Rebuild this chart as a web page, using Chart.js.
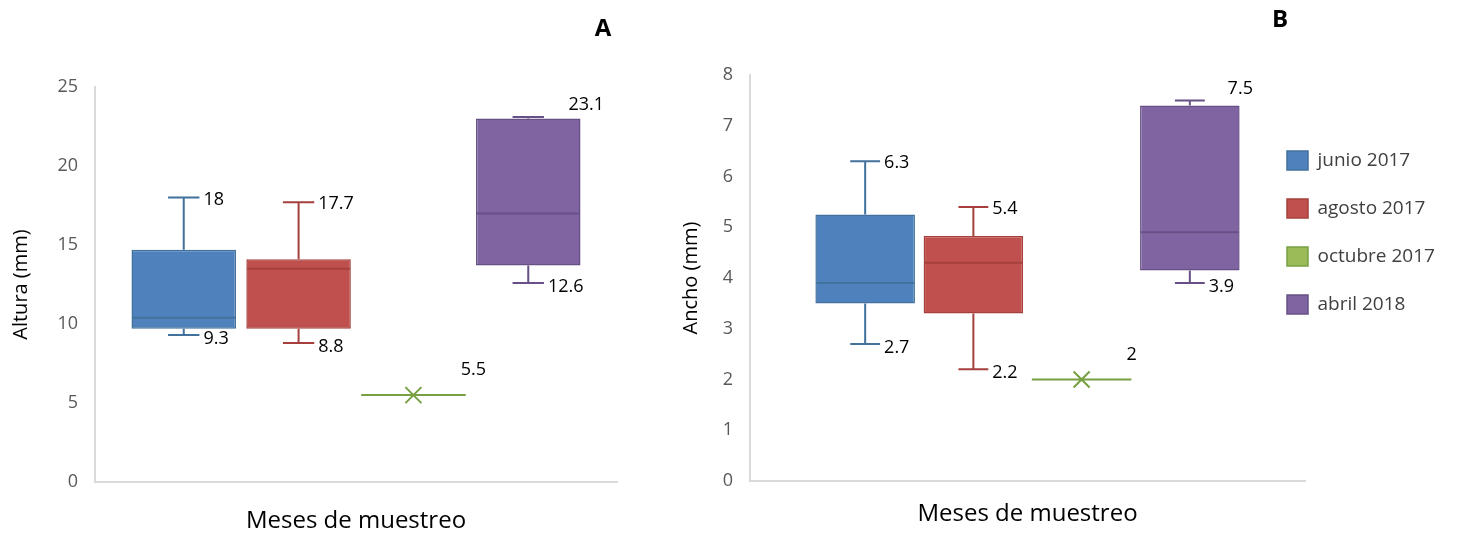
<!DOCTYPE html>
<html>
<head>
<meta charset="utf-8">
<script src="https://cdn.jsdelivr.net/npm/chart.js@4.4.1/dist/chart.umd.min.js"></script>
<style>
  body { margin: 0; background: #fff; width: 1460px; height: 536px; overflow: hidden; position: relative; }
  #wrapA { position: absolute; left: 0; top: 0; width: 670px; height: 536px; }
  #wrapB { position: absolute; left: 670px; top: 0; width: 790px; height: 536px; }
</style>
</head>
<body>
<div id="wrapA"><canvas id="chartA"></canvas></div>
<div id="wrapB"><canvas id="chartB"></canvas></div>
<script>
// series (months)
var series = ['junio 2017', 'agosto 2017', 'octubre 2017', 'abril 2018'];

// A - Altura (mm)
var alturaMin = [9.3, 8.8, 5.5, 12.6];
var alturaQ1  = [9.7, 9.7, 5.5, 13.7];
var alturaMed = [10.4, 13.5, 5.5, 17.0];
var alturaQ3  = [14.7, 14.1, 5.5, 23.0];
var alturaMax = [18, 17.7, 5.5, 23.1];
var alturaTicks = [0, 5, 10, 15, 20, 25];

// B - Ancho (mm)
var anchoMin = [2.7, 2.2, 2, 3.9];
var anchoQ1  = [3.5, 3.3, 2, 4.15];
var anchoMed = [3.9, 4.3, 2, 4.9];
var anchoQ3  = [5.25, 4.83, 2, 7.4];
var anchoMax = [6.3, 5.4, 2, 7.5];
var anchoTicks = [0, 1, 2, 3, 4, 5, 6, 7, 8];

var fillColors = ['#4F81BD', '#C0504D', '#9BBB59', '#8064A2'];
var lineColors = ['#41719C', '#A5403D', '#77A043', '#675085'];

// whiskers, medians, single-value marks and value labels
var boxWhisker = {
  id: 'boxWhisker',
  afterDatasetsDraw: function(chart, args, opts) {
    var ctx = chart.ctx;
    var y = chart.scales.y;
    ctx.save();
    ctx.font = '18px "Open Sans"';
    ctx.textAlign = 'left';
    ctx.textBaseline = 'middle';
    chart.data.datasets.forEach(function(ds, i) {
      var bar = chart.getDatasetMeta(i).data[0];
      var cx = bar.x, half = bar.width / 2, cap = bar.width * 0.15;
      var yMin = y.getPixelForValue(opts.min[i]);
      var yMed = y.getPixelForValue(opts.med[i]);
      var yQ1 = y.getPixelForValue(opts.q1[i]);
      var yQ3 = y.getPixelForValue(opts.q3[i]);
      var yMax = y.getPixelForValue(opts.max[i]);
      ctx.strokeStyle = lineColors[i];
      ctx.lineWidth = 2;

      if (opts.min[i] === opts.max[i]) {
        // only one value: flat line + mean cross
        ctx.beginPath();
        ctx.moveTo(cx - half, yMed);
        ctx.lineTo(cx + half, yMed);
        ctx.moveTo(cx - 8, yMed - 8);
        ctx.lineTo(cx + 8, yMed + 8);
        ctx.moveTo(cx + 8, yMed - 8);
        ctx.lineTo(cx - 8, yMed + 8);
        ctx.stroke();
        ctx.fillStyle = '#000';
        ctx.fillText(String(opts.med[i]), cx + half - 5, yMed - 25);
        return;
      }

      ctx.beginPath();
      ctx.moveTo(cx - half + 1, yMed);
      ctx.lineTo(cx + half - 1, yMed);
      ctx.moveTo(cx, yQ3);
      ctx.lineTo(cx, yMax);
      ctx.moveTo(cx - cap, yMax);
      ctx.lineTo(cx + cap, yMax);
      ctx.moveTo(cx, yQ1);
      ctx.lineTo(cx, yMin);
      ctx.moveTo(cx - cap, yMin);
      ctx.lineTo(cx + cap, yMin);
      ctx.stroke();

      ctx.fillStyle = '#000';
      if (yQ3 - yMax < 14) {
        ctx.fillText(String(opts.max[i]), cx + half - 12, yMax - 12);
      } else {
        ctx.fillText(String(opts.max[i]), cx + cap + 4, yMax + 2);
      }
      ctx.fillText(String(opts.min[i]), cx + cap + 4, yMin + 4);
    });
    ctx.restore();
  }
};

var panelLetter = {
  id: 'panelLetter',
  afterDraw: function(chart, args, opts) {
    var ctx = chart.ctx;
    ctx.save();
    ctx.font = 'bold 24px "Open Sans"';
    ctx.fillStyle = '#000';
    ctx.textAlign = 'center';
    ctx.textBaseline = 'middle';
    ctx.fillText(opts.text, opts.x, opts.y);
    ctx.restore();
  }
};

// legend sits partly over the plot's right end, like the original
var legendShift = {
  id: 'legendShift',
  afterLayout: function(chart, args, opts) {
    var lg = chart.legend;
    if (!lg || !opts.dx) return;
    lg.left += opts.dx;
    lg.right = chart.width;
    lg.top += opts.dy; lg.bottom += opts.dy;
  }
};

function makeBoxChart(id, p) {
  var datasets = series.map(function(name, i) {
    return {
      label: name,
      data: [[p.q1[i], p.q3[i]]],
      backgroundColor: fillColors[i],
      borderColor: lineColors[i],
      borderWidth: 1.5,
      borderSkipped: false,
      categoryPercentage: p.catPct,
      barPercentage: p.barPct
    };
  });
  return new Chart(document.getElementById(id), {
    type: 'bar',
    data: { labels: [''], datasets: datasets },
    options: {
      responsive: true,
      maintainAspectRatio: false,
      animation: false,
      layout: { padding: p.padding },
      scales: {
        x: {
          grid: { display: false, drawTicks: false },
          border: { display: true, color: '#D9D9D9', width: 2 },
          ticks: { display: false },
          title: { display: true, text: 'Meses de muestreo', color: '#000',
                   font: { family: 'Open Sans', size: 24 }, padding: { top: 0, bottom: p.xTitlePad } },
          afterFit: function(s) { s.height = p.xHeight; }
        },
        y: {
          min: 0,
          max: p.ticks[p.ticks.length - 1],
          afterBuildTicks: function(s) { s.ticks = p.ticks.map(function(v) { return { value: v }; }); },
          grid: { display: false, drawTicks: false },
          border: { display: true, color: '#D9D9D9', width: 2 },
          ticks: { color: '#595959', padding: 17, font: { family: 'Open Sans', size: 18 } },
          title: { display: true, text: p.yTitle, color: '#000',
                   font: { family: 'Open Sans', size: 20 }, padding: { top: 1, bottom: 0 } },
          afterFit: function(s) { s.width = p.yWidth; }
        }
      },
      plugins: {
        tooltip: { enabled: false },
        legend: p.legend,
        boxWhisker: { min: p.min, q1: p.q1, med: p.med, q3: p.q3, max: p.max },
        panelLetter: p.letter,
        legendShift: p.shift
      }
    },
    plugins: [boxWhisker, panelLetter, legendShift]
  });
}

makeBoxChart('chartA', {
  min: alturaMin, q1: alturaQ1, med: alturaMed, q3: alturaQ3, max: alturaMax,
  ticks: alturaTicks, yTitle: 'Altura (mm)',
  catPct: 0.88, barPct: 0.91,
  padding: { left: 8, right: 53, top: 87, bottom: 0 },
  yWidth: 87, xHeight: 54, xTitlePad: 0,
  legend: { display: false },
  letter: { text: 'A', x: 603, y: 29 },
  shift: { dx: 0, dy: 0 }
});

makeBoxChart('chartB', {
  min: anchoMin, q1: anchoQ1, med: anchoMed, q3: anchoQ3, max: anchoMax,
  ticks: anchoTicks, yTitle: 'Ancho (mm)',
  catPct: 0.78, barPct: 0.92,
  padding: { left: 8, right: 0, top: 75, bottom: 0 },
  yWidth: 72, xHeight: 55, xTitlePad: 7,
  legend: {
    display: true, position: 'right', align: 'start', maxWidth: 155,
    labels: { boxWidth: 21, boxHeight: 19, padding: 29, color: '#404040',
              font: { family: 'Open Sans', size: 19 } }
  },
  letter: { text: 'B', x: 610, y: 20 },
  shift: { dx: -47, dy: 47 }
});
</script>
</body>
</html>
